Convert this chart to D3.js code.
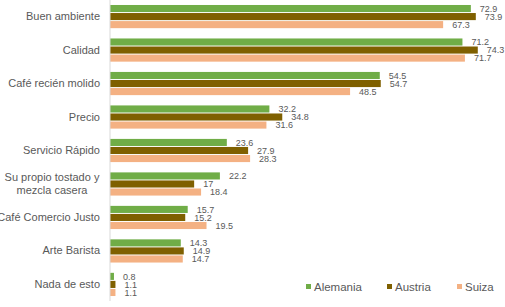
<!DOCTYPE html>
<html>
<head>
<meta charset="utf-8">
<script src="https://cdn.jsdelivr.net/npm/d3@7"></script>
<style>
  body { margin: 0; background: #fff; }
  text { font-family: "Liberation Sans", Arial, sans-serif; }
</style>
</head>
<body>
<div id="chart"></div>
<script>
// categories and series values
const categories = ["Buen ambiente", "Calidad", "Café recién molido", "Precio", "Servicio Rápido",
  "Su propio tostado y\nmezcla casera", "Café Comercio Justo", "Arte Barista", "Nada de esto"];
const seriesNames = ["Alemania", "Austria", "Suiza"];
const alemania = [72.9, 71.2, 54.5, 32.2, 23.6, 22.2, 15.7, 14.3, 0.8];
const austria = [73.9, 74.3, 54.7, 34.8, 27.9, 17, 15.2, 14.9, 1.1];
const suiza = [67.3, 71.7, 48.5, 31.6, 28.3, 18.4, 19.5, 14.7, 1.1];
const colors = ["#70AD47", "#7F6000", "#F4B183"];

const width = 505, height = 307;
const margin = {top: 0, right: 0, bottom: 6, left: 110};

const svg = d3.select("#chart")
  .append("svg")
  .attr("width", width)
  .attr("height", height);

const values = [alemania, austria, suiza];
const rows = categories.map((c, i) => ({cat: c, vals: values.map(v => v[i])}));

// scales
const x = d3.scaleLinear()
  .domain([0, 80])
  .range([margin.left, margin.left + 396]);

const y = d3.scaleBand()
  .domain(categories)
  .range([margin.top, height - margin.bottom])
  .paddingInner(0.25)
  .paddingOuter(0.12);

const ySub = d3.scaleBand()
  .domain(seriesNames)
  .range([0, y.bandwidth()])
  .padding(0.12);

// bars
const groups = svg.selectAll(".grp")
  .data(rows)
  .enter()
  .append("g")
  .attr("class", "grp")
  .attr("transform", d => `translate(0,${y(d.cat)})`);

groups.selectAll("rect")
  .data(d => d.vals.map((v, j) => ({name: seriesNames[j], v: v, j: j})))
  .enter()
  .append("rect")
  .attr("x", x(0))
  .attr("y", d => ySub(d.name))
  .attr("width", d => x(d.v) - x(0))
  .attr("height", ySub.bandwidth())
  .attr("fill", d => colors[d.j]);

groups.selectAll(".val")
  .data(d => d.vals.map((v, j) => ({name: seriesNames[j], v: v})))
  .enter()
  .append("text")
  .attr("class", "val")
  .attr("x", d => x(d.v) + 9)
  .attr("y", d => ySub(d.name) + ySub.bandwidth() / 2)
  .attr("dy", "0.35em")
  .attr("font-size", "9px")
  .attr("fill", "#595959")
  .text(d => d.v);

// y axis line + labels
svg.append("line")
  .attr("x1", x(0)).attr("x2", x(0))
  .attr("y1", 0).attr("y2", height - 6)
  .attr("stroke", "#d9d9d9")
  .attr("stroke-width", 1);

const yAxis = svg.append("g")
  .attr("transform", `translate(${x(0)},0)`)
  .call(d3.axisLeft(y).tickSize(0).tickPadding(10))
  .call(g => g.select(".domain").remove());

yAxis.selectAll(".tick text")
  .attr("font-size", "11px")
  .attr("font-family", "Liberation Sans, Arial, sans-serif")
  .attr("fill", "#595959")
  .each(function(d) {
    const lines = d.split("\n");
    if (lines.length > 1) {
      const t = d3.select(this).text(null).attr("text-anchor", "middle");
      const cx = -10 - 48;
      lines.forEach((ln, k) => {
        t.append("tspan")
          .attr("x", cx)
          .attr("dy", k === 0 ? "-0.25em" : "1.2em")
          .text(ln);
      });
    }
  });

// legend
const legendX = [306, 387, 457];
const legend = svg.selectAll(".leg")
  .data(seriesNames)
  .enter()
  .append("g")
  .attr("class", "leg")
  .attr("transform", (d, i) => `translate(${legendX[i]},284)`);

legend.append("rect")
  .attr("width", 5).attr("height", 5)
  .attr("fill", (d, i) => colors[i]);

legend.append("text")
  .attr("x", 8)
  .attr("y", 2.5)
  .attr("dy", "0.35em")
  .attr("font-size", "11.5px")
  .attr("fill", "#595959")
  .text(d => d);
</script>
</body>
</html>
